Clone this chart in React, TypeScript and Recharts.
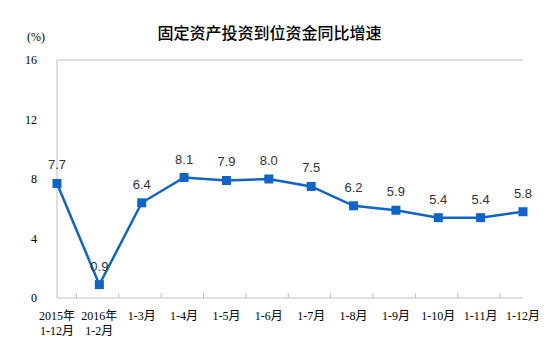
import React from 'react'
import { LineChart, Line, XAxis, YAxis, LabelList, ReferenceLine } from 'recharts'

const categories = ['2015年\n1-12月', '2016年\n1-2月', '1-3月', '1-4月', '1-5月', '1-6月', '1-7月', '1-8月', '1-9月', '1-10月', '1-11月', '1-12月']
const growth = [7.7, 0.9, 6.4, 8.1, 7.9, 8.0, 7.5, 6.2, 5.9, 5.4, 5.4, 5.8]
const yTicks = [0, 4, 8, 12, 16]

const W = 553
const H = 362
const xAxisHeight = 30
const margin = { top: 60, right: 30, bottom: 64 - xAxisHeight, left: 17 }
const yAxisWidth = 40
const plotWidth = W - margin.left - margin.right - yAxisWidth
const band = plotWidth / categories.length

const AXIS = '#BFBFBF'
const BLUE = '#0F64C8'
const tickFont = '"Liberation Serif", "Noto Sans CJK SC", serif'

const data = categories.map((name, i) => ({ name, value: growth[i] }))

function XTick(props: any) {
  const { x, y, payload, index } = props
  const lines = String(payload.value).split('\n')
  return (
    <g>
      {index < categories.length - 1 && (
        <line x1={x + band / 2} x2={x + band / 2} y1={y} y2={y - 5} stroke={AXIS} />
      )}
      <text x={x} y={y} textAnchor="middle" fontSize={12} fontFamily={tickFont} fill="#000">
        {lines.map((l, i) => (
          <tspan key={i} x={x} dy={i === 0 ? 22 : 15}>{l}</tspan>
        ))}
      </text>
    </g>
  )
}

function Square(props: any) {
  const { cx, cy } = props
  if (cx == null || cy == null) return null
  return <rect x={cx - 4.5} y={cy - 4.5} width={9} height={9} fill={BLUE} />
}

export default function App() {
  return (
    <div style={{ position: 'relative', width: W, height: H, background: '#fff' }}>
      <style>{`body{margin:0}`}</style>
      <div style={{ position: 'absolute', left: 0, width: W - 14, top: 20, textAlign: 'center', fontSize: 16, fontWeight: 500, fontFamily: '"Noto Sans CJK SC", sans-serif', color: '#000' }}>
        固定资产投资到位资金同比增速
      </div>
      <div style={{ position: 'absolute', left: 27, top: 30, fontSize: 12, fontFamily: tickFont, color: '#000' }}>
        (%)
      </div>
      <LineChart width={W} height={H} data={data} margin={margin}>
        <XAxis
          dataKey="name"
          interval={0}
          height={xAxisHeight}
          axisLine={{ stroke: AXIS }}
          tickLine={false}
          tickSize={0}
          tickMargin={0}
          tick={<XTick />}
        />
        <YAxis
          domain={[0, 16]}
          ticks={yTicks}
          width={yAxisWidth}
          axisLine={{ stroke: AXIS }}
          tickLine={false}
          tickMargin={14}
          tick={{ fontSize: 12, fontFamily: tickFont, fill: '#000' }}
        />
        <YAxis
          yAxisId="right"
          orientation="right"
          domain={[0, 16]}
          width={0}
          tick={false}
          tickLine={false}
          axisLine={{ stroke: AXIS }}
        />
        <ReferenceLine y={16} stroke={AXIS} />
        <Line
          type="linear"
          dataKey="value"
          stroke={BLUE}
          strokeWidth={2.5}
          dot={<Square />}
          activeDot={false}
          isAnimationActive={false}
        >
          <LabelList
            dataKey="value"
            position="top"
            offset={14}
            formatter={(v: any) => Number(v).toFixed(1)}
            style={{ fontSize: 13, fontFamily: '"Liberation Sans", Arial, sans-serif', fill: '#333' }}
          />
        </Line>
      </LineChart>
    </div>
  )
}
